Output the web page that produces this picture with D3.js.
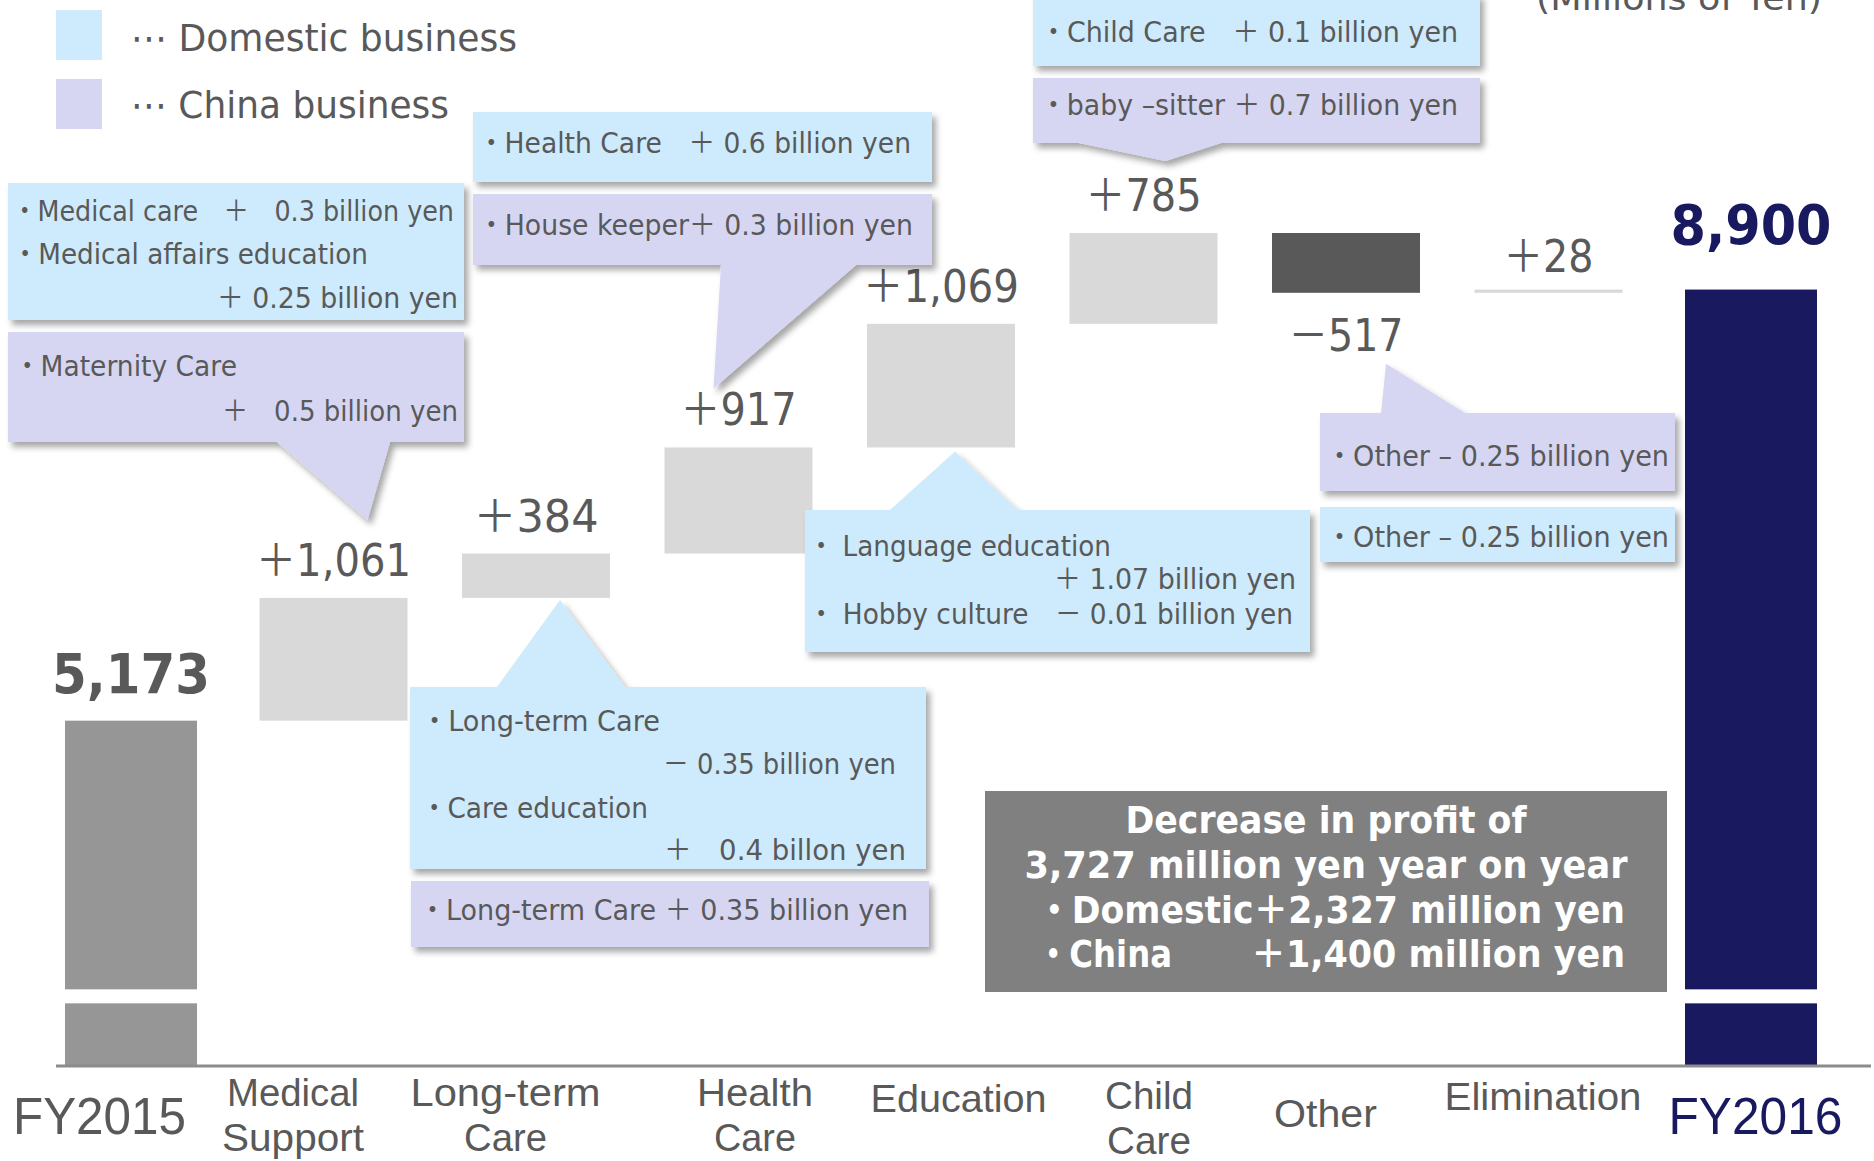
<!DOCTYPE html>
<html>
<head>
<meta charset="utf-8">
<script src="https://cdn.jsdelivr.net/npm/d3@7"></script>
<style>
  html, body { margin: 0; padding: 0; background: #fff; }
  svg { display: block; font-family: "DejaVu Sans", "Noto Sans CJK JP", sans-serif; }
</style>
</head>
<body>
<svg id="chart"></svg>
<script>
const width = 1874, height = 1161;

// ---- data ----
const categories = ["FY2015", "Medical Support", "Long-term Care", "Health Care", "Education", "Child Care", "Other", "Elimination", "FY2016"];
const categoryLines = [["FY2015"], ["Medical", "Support"], ["Long-term", "Care"], ["Health", "Care"], ["Education"], ["Child", "Care"], ["Other"], ["Elimination"], ["FY2016"]];
const values = [5173, 1061, 384, 917, 1069, 785, -517, 28, 8900];
const valueLabels = ["5,173", "＋1,061", "＋384", "＋917", "＋1,069", "＋785", "－517", "＋28", "8,900"];
const barKinds = ["total", "delta", "delta", "delta", "delta", "delta", "delta", "delta", "total"];
const legendLabels = ["⋯ Domestic business", "⋯ China business"];
const unitLabel = "(Millions of Yen)";
const summaryLines = ["Decrease in profit of", "3,727 million yen year on year", "・Domestic＋2,327 million yen"];
const summaryLast = ["・China", "＋1,400 million yen"];

// ---- colours ----
const domesticColor = "#cdebfc";
const chinaColor = "#d6d6f3";
const textColor = "#595959";
const navy = "#191960";

// ---- layout ----
const baseY = 1066;
const breakValue = 2850, breakGap = 14;
const labelDx = [-32, -41, -31, 16, 17, 5, -21, -6, 4];
const labelY = [[1134], [1106, 1151], [1106, 1151], [1106, 1151], [1112], [1109, 1154], [1127], [1110], [1134]];
const labelW = [[173], [132, 142], [190, 83], [116, 82], [176], [88, 84], [103], [197], [174]];
const valueGap = [-28, -22, -22, -22, -22, -22, 58, -18, -46];
const valueW = [158, 155, 125, 116, 156, 116, 115, 90, 161];

const svg = d3.select("#chart").attr("width", width).attr("height", height);

const defs = svg.append("defs");
defs.append("filter").attr("id", "shadow")
  .attr("x", "-10%").attr("y", "-10%").attr("width", "130%").attr("height", "140%")
  .append("feDropShadow")
  .attr("dx", 4).attr("dy", 5).attr("stdDeviation", 3)
  .attr("flood-color", "#000").attr("flood-opacity", 0.35);

function fit(sel, w) {
  sel.attr("textLength", w).attr("lengthAdjust", "spacingAndGlyphs");
}

// scales
const x = d3.scalePoint().domain(categories).range([131, 1751]);
const y = d3.scaleLinear().domain([3000, 9000]).range([972, 278]);

// waterfall geometry
let run = 0;
const bars = values.map((v, i) => {
  if (barKinds[i] === "total") {
    run = v;
    return { i, top: v, bottom: breakValue, total: true };
  }
  const b = { i, top: Math.max(run, run + v), bottom: Math.min(run, run + v), neg: v < 0 };
  run += v;
  return b;
});

function barColor(b) {
  if (b.total) return b.i === 0 ? "#969696" : navy;
  return b.neg ? "#595959" : "#d9d9d9";
}

// bars
const barG = svg.append("g");
bars.forEach(b => {
  const w = b.total ? 132 : 148;
  const cx = x(categories[b.i]);
  barG.append("rect")
    .attr("x", cx - w / 2).attr("width", w)
    .attr("y", y(b.top)).attr("height", y(b.bottom) - y(b.top))
    .attr("fill", barColor(b));
  if (b.total) {
    barG.append("rect")
      .attr("x", cx - w / 2).attr("width", w)
      .attr("y", y(breakValue) + breakGap).attr("height", baseY - 1 - (y(breakValue) + breakGap))
      .attr("fill", barColor(b));
  }
});

// value labels
function valueBaseline(i) {
  const b = bars[i];
  return b.neg ? y(b.bottom) + valueGap[i] : y(b.top) + valueGap[i];
}
const valG = svg.append("g");
bars.forEach(b => {
  const t = valG.append("text")
    .attr("x", x(categories[b.i]))
    .attr("y", valueBaseline(b.i))
    .attr("text-anchor", "middle")
    .attr("font-size", b.total ? 56 : 44)
    .attr("font-weight", b.total ? "bold" : "normal")
    .attr("fill", b.i === 8 ? navy : textColor)
    .text(valueLabels[b.i]);
  fit(t, valueW[b.i]);
});

// baseline
svg.append("line")
  .attr("x1", 56).attr("x2", 1871)
  .attr("y1", baseY).attr("y2", baseY)
  .attr("stroke", "#8c8c8c").attr("stroke-width", 3);

// category axis
const axis = svg.append("g")
  .attr("transform", `translate(0,${baseY})`)
  .call(d3.axisBottom(x).tickSize(0).tickFormat(() => ""));
axis.select(".domain").remove();
axis.selectAll(".tick text").each(function (d, i) {
  const t = d3.select(this)
    .attr("y", null).attr("dy", null)
    .attr("font-size", i === 0 || i === 8 ? 52 : 39)
    .attr("fill", i === 8 ? navy : textColor)
    .attr("text-anchor", "middle");
  categoryLines[i].forEach((line, k) => {
    const ts = t.append("tspan")
      .attr("x", labelDx[i])
      .attr("y", labelY[i][k] - baseY)
      .text(line);
    fit(ts, labelW[i][k]);
  });
});

// legend
const legend = svg.append("g");
legendLabels.forEach((label, i) => {
  legend.append("rect")
    .attr("x", 56).attr("y", 10 + i * 69)
    .attr("width", 46).attr("height", 50)
    .attr("fill", i === 0 ? domesticColor : chinaColor);
  fit(legend.append("text")
    .attr("x", 131).attr("y", 51 + i * 67)
    .attr("font-size", 38).attr("fill", textColor)
    .text(label), i === 0 ? 386 : 318);
});

fit(svg.append("text")
  .attr("x", 1536).attr("y", 10)
  .attr("font-size", 34).attr("fill", textColor)
  .text(unitLabel), 286);

// callouts
const callouts = [
  { fill: domesticColor, x: 8, y: 183, w: 456, h: 137, lines: [
    { t: "・Medical care　＋　0.3 billion yen", x: 12, y: 221, w: 442 },
    { t: "・Medical affairs education", x: 12, y: 264, w: 356 },
    { t: "＋ 0.25 billion yen", x: 458, y: 308, w: 241, end: true }] },
  { fill: chinaColor, x: 8, y: 332, w: 456, h: 110,
    pointer: { side: "bottom", b0: 277, b1: 390, cat: 1, ref: "label", dx: 34, dy: -56 }, lines: [
    { t: "・Maternity Care", x: 14, y: 376, w: 223 },
    { t: "＋　0.5 billion yen", x: 458, y: 421, w: 236, end: true }] },
  { fill: domesticColor, x: 473, y: 112, w: 459, h: 70, lines: [
    { t: "・Health Care　＋ 0.6 billion yen", x: 478, y: 153, w: 433 }] },
  { fill: chinaColor, x: 473, y: 194, w: 459, h: 71,
    pointer: { side: "bottom", b0: 721, b1: 856, cat: 3, ref: "label", dx: -25, dy: -37 }, lines: [
    { t: "・House keeper＋ 0.3 billion yen", x: 478, y: 235, w: 435 }] },
  { fill: domesticColor, x: 1033, y: -6, w: 447, h: 72, lines: [
    { t: "・Child Care　＋ 0.1 billion yen", x: 1040, y: 42, w: 418 }] },
  { fill: chinaColor, x: 1033, y: 78, w: 447, h: 65,
    pointer: { side: "bottom", b0: 1079, b1: 1221, cat: 5, ref: "label", dx: 22, dy: -50 }, lines: [
    { t: "・baby –sitter ＋ 0.7 billion yen", x: 1040, y: 115, w: 418 }] },
  { fill: domesticColor, x: 805, y: 510, w: 505, h: 142,
    pointer: { side: "top", b0: 890, b1: 1017, cat: 4, ref: "bar", dx: 14, dy: 4 }, lines: [
    { t: "・ Language education", x: 808, y: 556, w: 303 },
    { t: "＋ 1.07 billion yen", x: 1296, y: 589, w: 242, end: true },
    { t: "・ Hobby culture　－ 0.01 billion yen", x: 808, y: 624, w: 485 }] },
  { fill: chinaColor, x: 1320, y: 413, w: 355, h: 78,
    pointer: { side: "top", b0: 1381, b1: 1465, cat: 6, ref: "label", dx: 40, dy: 13 }, lines: [
    { t: "・Other – 0.25 billion yen", x: 1326, y: 466, w: 343 }] },
  { fill: domesticColor, x: 1320, y: 507, w: 355, h: 55, lines: [
    { t: "・Other – 0.25 billion yen", x: 1326, y: 547, w: 343 }] },
  { fill: domesticColor, x: 410, y: 687, w: 516, h: 182,
    pointer: { side: "top", b0: 497, b1: 625, cat: 2, ref: "bar", dx: 24, dy: 2 }, lines: [
    { t: "・Long-term Care", x: 421, y: 731, w: 239 },
    { t: "－ 0.35 billion yen", x: 896, y: 774, w: 233, end: true },
    { t: "・Care education", x: 421, y: 818, w: 227 },
    { t: "＋　0.4 billon yen", x: 906, y: 860, w: 242, end: true }] },
  { fill: chinaColor, x: 411, y: 881, w: 518, h: 66, lines: [
    { t: "・Long-term Care ＋ 0.35 billion yen", x: 419, y: 920, w: 489 }] }
];

function calloutPath(c) {
  const x0 = c.x, x1 = c.x + c.w, y0 = c.y, y1 = c.y + c.h;
  const p = c.pointer;
  if (!p) return `M${x0},${y0}H${x1}V${y1}H${x0}Z`;
  const tx = x(categories[p.cat]) + p.dx;
  const ty = p.ref === "bar" ? y(bars[p.cat].bottom) + p.dy : valueBaseline(p.cat) + p.dy;
  if (p.side === "bottom")
    return `M${x0},${y0}H${x1}V${y1}H${p.b1}L${tx},${ty}L${p.b0},${y1}H${x0}Z`;
  return `M${x0},${y0}H${p.b0}L${tx},${ty}L${p.b1},${y0}H${x1}V${y1}H${x0}Z`;
}

const calloutG = svg.append("g");
callouts.forEach(c => {
  calloutG.append("path")
    .attr("d", calloutPath(c))
    .attr("fill", c.fill)
    .attr("filter", "url(#shadow)");
  c.lines.forEach(l => {
    fit(calloutG.append("text")
      .attr("x", l.x).attr("y", l.y)
      .attr("text-anchor", l.end ? "end" : "start")
      .attr("font-size", 28).attr("fill", textColor)
      .text(l.t), l.w);
  });
});

// summary box
const sum = svg.append("g");
sum.append("rect")
  .attr("x", 985).attr("y", 791).attr("width", 682).attr("height", 201)
  .attr("fill", "#808080");
const sumStyle = t => t.attr("font-size", 38).attr("font-weight", "bold").attr("fill", "#fff");
fit(sumStyle(sum.append("text").attr("x", 1326).attr("y", 833).attr("text-anchor", "middle").text(summaryLines[0])), 401);
fit(sumStyle(sum.append("text").attr("x", 1326).attr("y", 878).attr("text-anchor", "middle").text(summaryLines[1])), 603);
fit(sumStyle(sum.append("text").attr("x", 1037).attr("y", 923).text(summaryLines[2])), 588);
fit(sumStyle(sum.append("text").attr("x", 1037).attr("y", 967).text(summaryLast[0])), 135);
fit(sumStyle(sum.append("text").attr("x", 1625).attr("y", 967).attr("text-anchor", "end").text(summaryLast[1])), 374);
</script>
</body>
</html>
